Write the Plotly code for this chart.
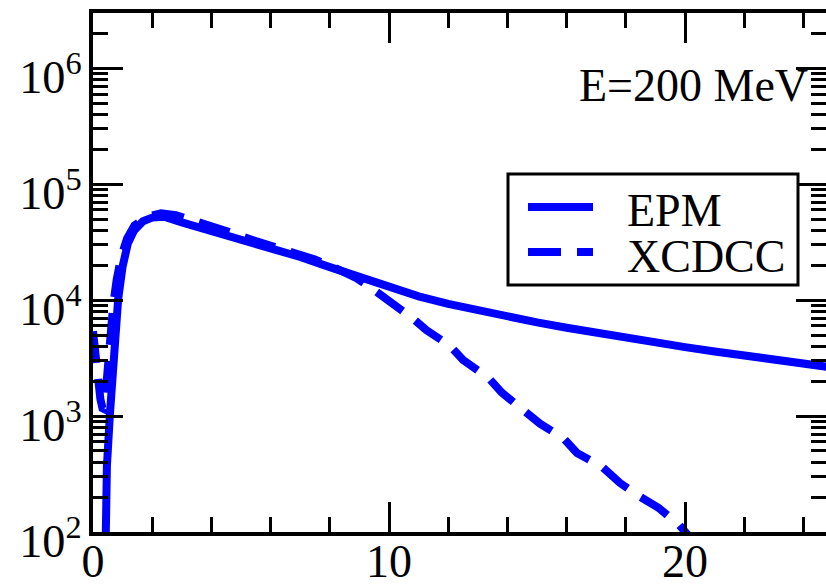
import plotly.graph_objects as go

# EPM curve
epm_x = [0.43, 0.47, 0.57, 0.66, 0.75, 0.85, 1.0, 1.18, 1.39, 1.69, 2.0, 2.4,
         3.0, 4.0, 5.0, 6.0, 7.0, 8.0, 9.0, 10.0, 11.0, 12.0, 13.0, 14.0, 15.0,
         16.0, 17.0, 18.0, 19.0, 20.0, 21.0, 22.0, 23.0, 24.0, 25.0]
epm_y = [89, 370, 1020, 2700, 5200, 10200, 19500, 31000, 40000, 48000, 51500, 52500,
         46800, 39800, 33500, 28200, 23550, 19280, 15780, 12970, 10790, 9290, 8130, 7190, 6430,
         5780, 5210, 4720, 4300, 3930, 3610, 3320, 3060, 2830, 2620]

# XCDCC curve
xcdcc_x = [0.0, 0.05, 0.1, 0.17, 0.25, 0.32, 0.38, 0.43, 0.5, 0.58, 0.68, 0.8, 0.95,
           1.15, 1.4, 1.8, 2.3, 2.8, 3.5, 4.5, 5.5, 6.5, 7.5, 8.3, 8.9, 9.4, 9.9,
           10.76, 11.27, 12.05, 12.5, 13.37, 13.8, 14.6, 15.1, 15.9, 16.35, 17.2,
           17.8, 18.5, 19.1, 19.8, 20.1]
xcdcc_y = [5400, 4000, 2600, 1900, 1400, 1170, 1150, 1600, 2800, 5000, 8900, 15000, 23500,
           34000, 44000, 52500, 56000, 54000, 48000, 39500, 32300, 27200, 22400, 18300, 15500, 12700, 10300,
           7100, 5500, 4050, 3050, 2120, 1600, 1100, 860, 640, 480, 365,
           265, 200, 162, 115, 94]

series_names = ["EPM", "XCDCC"]
annotation_text = "E=200 MeV"

x_range = [0, 24.76]
y_range_log = [2, 6.477]

FIG_W, FIG_H = 826, 584
M_L, M_R, M_T, M_B = 93, 0, 13, 52
PW = FIG_W - M_L - M_R
PH = FIG_H - M_T - M_B
FONT = "Liberation Serif"
BLUE = "#0000ff"


def px(xp):
    return (xp - M_L) / PW


def py(yp):
    return (FIG_H - M_B - yp) / PH


fig = go.Figure()
fig.add_trace(go.Scatter(x=epm_x, y=epm_y, mode="lines", name=series_names[0],
                         line=dict(color=BLUE, width=8), showlegend=False))
fig.add_trace(go.Scatter(x=xcdcc_x, y=xcdcc_y, mode="lines", name=series_names[1],
                         line=dict(color=BLUE, width=8, dash="32px,16px"), showlegend=False))

axis_common = dict(
    showgrid=False, zeroline=False, showline=True, linecolor="black", linewidth=4,
    mirror="ticks", ticks="inside", tickcolor="black", tickwidth=2.5, ticklen=30,
    automargin=False,
)

fig.update_xaxes(range=x_range, dtick=10, tick0=0, ticklabelstandoff=-14,
                 tickfont=dict(family=FONT, size=46, color="black"),
                 minor=dict(dtick=2, ticks="inside", ticklen=15, tickwidth=3, tickcolor="black"),
                 **axis_common)
# power-format labels on log axes are drawn 1.25x the tick font size
fig.update_yaxes(type="log", range=y_range_log, dtick=1, tick0=0,
                 exponentformat="power", showexponent="all", ticklabelshift=9,
                 tickfont=dict(family=FONT, size=37, color="black"),
                 minor=dict(dtick="D1", ticks="inside", ticklen=15, tickwidth=3, tickcolor="black"),
                 **axis_common)

# legend box with line samples
fig.add_shape(type="rect", xref="paper", yref="paper",
              x0=px(508), x1=px(798), y0=py(285), y1=py(174),
              line=dict(color="black", width=3), fillcolor="white", layer="above")
fig.add_shape(type="line", xref="paper", yref="paper",
              x0=px(528), x1=px(593), y0=py(207), y1=py(207),
              line=dict(color=BLUE, width=8), layer="above")
fig.add_shape(type="line", xref="paper", yref="paper",
              x0=px(528), x1=px(593), y0=py(252), y1=py(252),
              line=dict(color=BLUE, width=8, dash="33px,16px"), layer="above")
for name, yrow in zip(series_names, [210, 256]):
    fig.add_annotation(xref="paper", yref="paper", x=px(625), y=py(yrow),
                       text=name, showarrow=False, xanchor="left", yanchor="middle",
                       height=42, valign="middle",
                       font=dict(family=FONT, size=46, color="black"))

fig.add_annotation(xref="paper", yref="paper", x=px(810), y=py(86),
                   text=annotation_text, showarrow=False, xanchor="right", yanchor="middle",
                   font=dict(family=FONT, size=46, color="black"))

fig.update_layout(width=FIG_W, height=FIG_H, autosize=False,
                  margin=dict(l=M_L, r=M_R, t=M_T, b=M_B, pad=0),
                  plot_bgcolor="white", paper_bgcolor="white", showlegend=False)

fig.write_html("out.html")
